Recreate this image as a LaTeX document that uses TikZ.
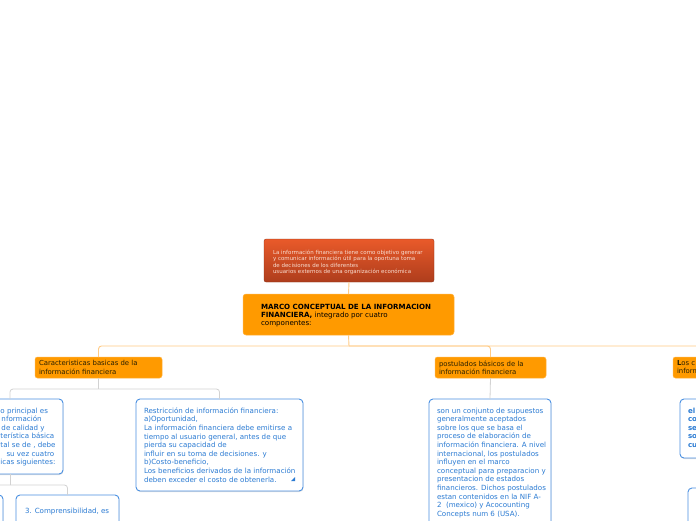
\documentclass[tikz,border=0pt]{standalone}
\usepackage{fontspec}
\setmainfont{DejaVu Sans}
\usetikzlibrary{shadows}
\definecolor{orgc}{HTML}{FF9A00}
\definecolor{orgl}{HTML}{FFB340}
\definecolor{topa}{HTML}{E95A2A}
\definecolor{topb}{HTML}{AE3D1C}
\definecolor{toptxt}{HTML}{F8DCCF}
\definecolor{conno}{HTML}{FFCB85}
\definecolor{conng}{HTML}{D2D2D2}
\definecolor{bluec}{HTML}{4A90E2}
\definecolor{bluet}{HTML}{2B7BD3}
\definecolor{darktxt}{HTML}{2B2100}
\begin{document}
\begin{tikzpicture}[x=1pt,y=-1pt,
  boxbase/.style={anchor=north west,inner sep=0pt,outer sep=0pt},
  topbox/.style={boxbase,rounded corners=2pt,top color=topa,bottom color=topb,draw=topb!80!black,line width=0.3pt},
  mainbox/.style={boxbase,rounded corners=3pt,fill=orgc,draw=orgl,line width=0.5pt},
  childbox/.style={boxbase,rounded corners=2.5pt,fill=orgc,draw=orgl,line width=0.5pt},
  bluebox/.style={boxbase,rounded corners=4pt,fill=white,draw=bluec,line width=0.9pt,
     drop shadow={shadow xshift=0.4pt,shadow yshift=-1pt,opacity=0.25,fill=black!50}},
  txtbase/.style={anchor=north west,inner sep=0pt,outer sep=0pt,align=left},
  toptext/.style={txtbase,text=toptxt,font=\fontsize{5.5pt}{6.4pt}\selectfont},
  maintext/.style={txtbase,text=black,font=\fontsize{7.1pt}{8pt}\selectfont},
  childtext/.style={txtbase,text=darktxt,font=\fontsize{6.9pt}{8.3pt}\selectfont},
  bluetext/.style={txtbase,text=bluet,font=\fontsize{7.1pt}{8.6pt}\selectfont},
  oconn/.style={draw=conno,line width=0.9pt,rounded corners=3pt},
  gconn/.style={draw=conng,line width=0.8pt,rounded corners=3pt}]
\useasboundingbox (0,0) rectangle (696,520);
\clip (0,0) rectangle (696,520);
\fill[white] (0,0) rectangle (696,520);

% boxes
\node[topbox,minimum width=170pt,minimum height=43pt] (top) at (264,239) {};
\node[mainbox,minimum width=211pt,minimum height=41pt] (marco) at (243,294) {};
\node[childbox,minimum width=127pt,minimum height=21pt] (carac) at (35,357) {};
\node[childbox,minimum width=111pt,minimum height=21pt] (postu) at (435,357) {};
\node[childbox,minimum width=130pt,minimum height=21pt] (comp) at (673,357) {};

\node[bluebox,minimum width=106pt,minimum height=75pt] (objet) at (-43,399) {};
\node[bluebox,minimum width=167pt,minimum height=92pt] (restr) at (136,399) {};
\node[bluebox,minimum width=122pt,minimum height=160pt] (postb) at (429,399) {};
\node[bluebox,minimum width=112pt,minimum height=59pt] (compb) at (680,399) {};
\node[bluebox,minimum width=46pt,minimum height=60pt] (cualA) at (-43,495) {};
\node[bluebox,minimum width=103pt,minimum height=60pt] (cualC) at (16,495) {};
\node[bluebox,minimum width=120pt,minimum height=60pt] (compc) at (688,488) {};

% connectors
\coordinate (j0) at (349,346);
\coordinate (j1) at (98.5,389);
\coordinate (j2) at (10,485);
\draw[oconn] (top.south) -- (marco.north);
\draw[oconn] (marco.south) -- (j0);
\draw[oconn] (j0) -| (carac.north);
\draw[oconn] (j0) -| (postu.north);
\draw[oconn] (j0) -| (comp.north);
\draw[gconn] (carac.south) -- (j1);
\draw[gconn] (j1) -| (objet.north);
\draw[gconn] (j1) -| (restr.north);
\draw[gconn] (postu.south) -- (postb.north);
\draw[gconn] (objet.south) -- (j2);
\draw[gconn] (j2) -| (cualA.north);
\draw[gconn] (j2) -| (cualC.north);
\draw[gconn] (comp.south) -- (compb.north);
\draw[gconn] (compb.south) -- (compc.north);

% texts
\node[toptext] (toptx) at (273,249.8) {La información financiera tiene como objetivo generar\\y comunicar información útil para la oportuna toma\\de decisiones de los diferentes\\usuarios externos de una organización económica};
\node[maintext] (marcotx) at (261,303.9) {\textbf{MARCO CONCEPTUAL DE LA INFORMACION}\\\textbf{FINANCIERA,} integrado por cuatro\\componentes:};
\node[childtext] (caractx) at (39,360.6) {Caracteristicas basicas de la\\información financiera};
\node[childtext] (postutx) at (439,360.6) {postulados básicos de la\\información financiera};
\node[childtext] (comptx) at (677,360.6) {\textbf{L}os c\\inform};
\node[bluetext] (objettx) at (0.5,407.7) {o principal es\\\hspace*{1pt}nformación\\\hspace*{1pt}de calidad y\\terística básica\\tal se de , debe\\\hspace*{6pt}su vez cuatro\\icas siguientes:};
\node[bluetext] (restrtx) at (144,407.7) {Restricción de información financiera:\\a)Oportunidad,\\La información financiera debe emitirse a\\tiempo al usuario general, antes de que\\pierda su capacidad de\\influir en su toma de decisiones. y\\b)Costo-beneficio,\\Los beneficios derivados de la información\\deben exceder el costo de obtenerla.};
\node[bluetext] (postbtx) at (437,407.7) {son un conjunto de supuestos\\generalmente aceptados\\sobre los que se basa el\\proceso de elaboración de\\información financiera. A nivel\\internacional, los postulados\\influyen en el marco\\conceptual para preparacion y\\presentacion de estados\\financieros. Dichos postulados\\estan contenidos en la NIF A-\\2\ \ (mexico) y Acocounting\\Concepts num 6 (USA).};
\node[bluetext,font=\bfseries\fontsize{7.1pt}{8.6pt}\selectfont] (compbtx) at (688,407.7) {el\\co\\se\\so\\cu};
\node[bluetext] (cualCtx) at (25,508.5) {3. Comprensibilidad, es};
\fill[bluet] (restr.south east) ++(-8,-10) coordinate (tri) -- ++(0,-4) -- ++(-4,4) -- cycle;
\end{tikzpicture}
\end{document}
